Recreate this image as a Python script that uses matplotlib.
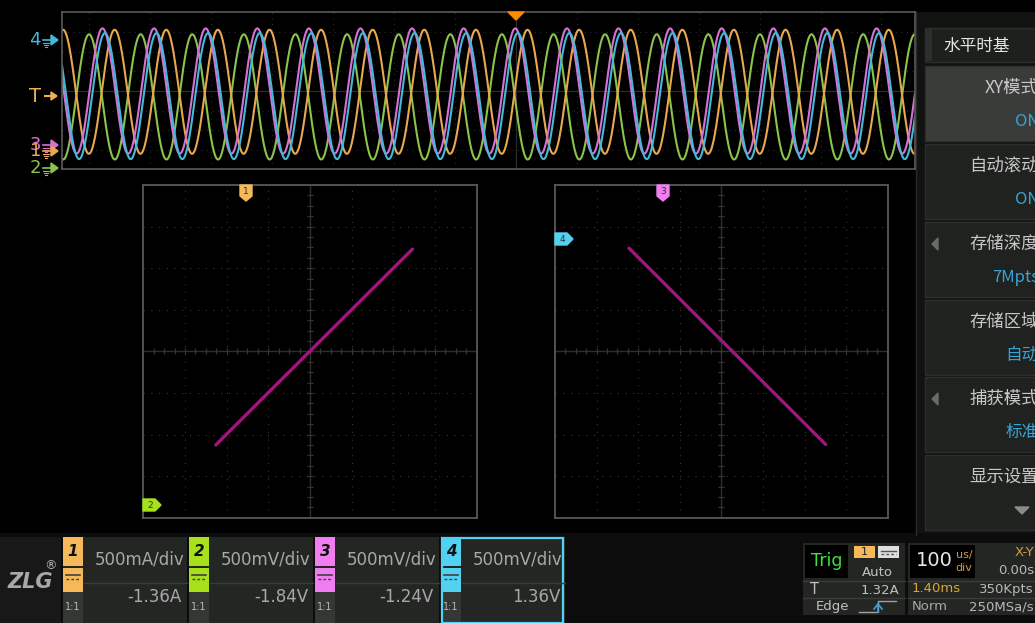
import numpy as np
import matplotlib
matplotlib.use('Agg')
import matplotlib.pyplot as plt
from matplotlib.patches import Rectangle, Polygon

W, H = 1035, 623
CJK = ['Noto Sans CJK SC', 'DejaVu Sans']

channels = ['1', '2', '3', '4']
ch_colors = ['#f5b95a', '#a6e11c', '#f07ef0', '#52d2f0']      # badge colours
trace_colors = ['#e9a84f', '#8cc34a', '#d672d6', '#45b9d9']   # waveform colours
ch_scale = ['500mA/div', '500mV/div', '500mV/div', '500mV/div']
ch_offset = ['-1.36A', '-1.84V', '-1.24V', '1.36V']
ch_probe = ['1:1', '1:1', '1:1', '1:1']

# sine fit of each trace (in divisions / microseconds)
wave_amp = [3.16, 3.19, 3.19, 3.21]
wave_center = [-0.04, -0.30, 0.0, -0.26]
wave_peak_us = [19, -23, -1, 3]
wave_period_us = 84.7
time_span_us = [-745, 655]

# XY traces, end points in divisions
xy_left_x = [-2.26, 2.46]
xy_left_y = [-2.25, 2.46]
xy_right_x = [-2.22, 2.51]
xy_right_y = [2.48, -2.24]

menu_title = '水平时基'
menu_items = ['XY模式', '自动滚动', '存储深度', '存储区域', '捕获模式', '显示设置']
menu_values = ['ON', 'ON', '7Mpts', '自动', '标准', '']

trig_source, trig_mode, trig_level, trig_type = '1', 'Auto', '1.32A', 'Edge'
timebase, tb_unit = '100', ['us/', 'div']
mode_text, pos_text, delay_text = 'X-Y', '0.00s', '1.40ms'
depth_text, acq_text, rate_text = '350Kpts', 'Norm', '250MSa/s'

# ---------------- figure ----------------
fig = plt.figure(figsize=(W / 100, H / 100), dpi=100)
fig.patch.set_facecolor('black')


def px_axes(x0, y0, x1, y1, z=1):
    ax = fig.add_axes([x0 / W, 1 - y1 / H, (x1 - x0) / W, (y1 - y0) / H], zorder=z)
    return ax


bg = px_axes(0, 0, W, H, z=0)
bg.set_xlim(0, W)
bg.set_ylim(H, 0)
bg.axis('off')
bg.set_facecolor('black')

fg = px_axes(0, 0, W, H, z=5)
fg.set_xlim(0, W)
fg.set_ylim(H, 0)
fg.axis('off')
fg.patch.set_alpha(0)


def rect(ax, x, y, w, h, fc, ec='none', lw=0):
    ax.add_patch(Rectangle((x, y), w, h, fc=fc, ec=ec, lw=lw))


# ---------------- top waveform window ----------------
wav = px_axes(62, 12.5, 915, 169.5, z=2)
wav.set_facecolor('none')
wav.set_xlim(*time_span_us)
wav.set_ylim(-4, 4)
wav.set_xticks([])
wav.set_yticks([])
for s in wav.spines.values():
    s.set_color('#5a5a5a')
    s.set_linewidth(1.2)
for k in range(-7, 7):
    wav.axvline(k * 100, color='#2a2a2a', lw=0.8, ls=(0, (1, 4)))
for k in range(-3, 4):
    wav.axhline(k, color='#2a2a2a', lw=0.8, ls=(0, (1, 4)))
wav.axhline(0, color='#2c2c2c', lw=0.9)
wav.axvline(0, color='#2c2c2c', lw=0.9)

t = np.linspace(time_span_us[0], time_span_us[1], 3000)
for i in [1, 0, 2, 3]:
    y = wave_center[i] + wave_amp[i] * np.cos(2 * np.pi * (t - wave_peak_us[i]) / wave_period_us)
    wav.plot(t, y, color=trace_colors[i], lw=1.5)

# trigger position marker
fg.add_patch(Polygon([(508, 12), (524, 12), (516, 20)], color='#ff8a00'))

# channel level markers on the left
level_y = {'4': 40, '3': 145, '1': 151, '2': 168}
for ch in ['4', '3', '1', '2']:
    i = channels.index(ch)
    yy = level_y[ch]
    c = trace_colors[i]
    fg.text(41, yy, ch, color=c, fontsize=13, ha='right', va='center')
    fg.plot([43, 51], [yy, yy], color=c, lw=1.2)
    for k, (a, b) in enumerate([(43, 49), (44, 48), (45, 47)]):
        fg.plot([a, b], [yy + 3 + 2 * k, yy + 3 + 2 * k], color=c, lw=0.8)
    fg.add_patch(Polygon([(51, yy - 5), (58, yy), (51, yy + 5)], color=c))
fg.text(41, 96, 'T', color='#f0b050', fontsize=14, ha='right', va='center')
fg.plot([45, 52], [96, 96], color='#f0b050', lw=1.5)
fg.add_patch(Polygon([(51, 92), (57, 96), (51, 100)], color='#f0b050'))

# ---------------- XY windows ----------------
def xy_window(x0, x1, xs, ys):
    ax = px_axes(x0, 185, x1, 517.7, z=2)
    ax.set_facecolor('none')
    ax.set_xlim(-4, 4)
    ax.set_ylim(-4, 4)
    ax.set_xticks([])
    ax.set_yticks([])
    for s in ax.spines.values():
        s.set_color('#585858')
        s.set_linewidth(1.3)
    for k in [-3, -2, -1, 1, 2, 3]:
        ax.axvline(k, color='#3a3a3a', lw=0.8, ls=(0, (1, 6)))
        ax.axhline(k, color='#3a3a3a', lw=0.8, ls=(0, (1, 6)))
    ax.axvline(0, color='#2e2e2e', lw=1.0)
    ax.axhline(0, color='#2e2e2e', lw=1.0)
    ticks = np.arange(-3.75, 4, 0.25)
    ax.vlines(ticks, -0.07, 0.07, color='#353535', lw=0.9)
    ax.hlines(ticks, -0.07, 0.07, color='#353535', lw=0.9)
    ax.plot(xs, ys, color='#a0157f', lw=2.4, solid_capstyle='round')
    return ax


xy_window(143.3, 476.7, xy_left_x, xy_left_y)
xy_window(555, 887.7, xy_right_x, xy_right_y)


def badge_down(x, ch):
    i = channels.index(ch)
    fg.add_patch(Polygon([(x - 6, 185), (x + 6, 185), (x + 6, 196), (x, 201), (x - 6, 196)],
                         color=ch_colors[i]))
    fg.text(x, 192, ch, fontsize=6.5, ha='center', va='center', color='#303030')


def badge_right(y, x, ch):
    i = channels.index(ch)
    fg.add_patch(Polygon([(x, y - 6), (x + 12, y - 6), (x + 18, y), (x + 12, y + 6), (x, y + 6)],
                         color=ch_colors[i]))
    fg.text(x + 7, y, ch, fontsize=6.5, ha='center', va='center', color='#303030')


badge_down(246, '1')
badge_right(505, 143, '2')
badge_down(663, '3')
badge_right(239, 555, '4')

# ---------------- right side menu ----------------
rect(bg, 917, 12, 118, 523, '#111311')
bg.plot([915.5, 915.5], [12, 535], color='#2a2a2a', lw=1)
rect(bg, 925, 28, 112, 34, '#1d201d', ec='#2b2e2b', lw=1)
rect(bg, 926, 29, 6, 32, '#2c2f2c')
bg.text(943, 46, menu_title, family=CJK, fontsize=12, color='#e6e6e6', ha='left', va='center')
box_tops = [66, 144, 222, 300, 377, 455]
for k, top in enumerate(box_tops):
    fc = '#3a3c3a' if k == 0 else '#1f221f'
    rect(bg, 925, top, 112, 75, fc, ec='#2c2f2c', lw=1)
    bg.text(1039, top + 22, menu_items[k], family=CJK, fontsize=12.5,
            color='#c8c8c8', ha='right', va='center')
    if menu_values[k]:
        bg.text(1039, top + 55, menu_values[k], family=CJK, fontsize=12,
                color='#3aa2d6', ha='right', va='center')
    if k in (2, 4):
        bg.add_patch(Polygon([(938, top + 16), (938, top + 28), (932, top + 22)], color='#6a6a6a'))
bg.add_patch(Polygon([(1015, 507), (1029, 507), (1022, 514)], color='#8a8a8a'))

# ---------------- bottom status bar ----------------
rect(bg, 0, 533, W, 90, '#0c0c0c')
rect(bg, 0, 537, 61, 86, '#181818')
bg.text(30, 582, 'ZLG', fontsize=15, fontweight='bold', style='italic',
        color='#a8a8a8', ha='center', va='center')
bg.text(50, 566, '®', fontsize=9, color='#b0b0b0', ha='center', va='center')

box_x = [63, 189, 315, 441]
for i, x0 in enumerate(box_x):
    rect(bg, x0, 537, 124, 86, '#242624')
    rect(bg, x0, 537, 20, 29, ch_colors[i])
    bg.text(x0 + 10, 551, channels[i], fontsize=11, fontweight='bold', style='italic',
            color='#111111', ha='center', va='center')
    rect(bg, x0, 568, 20, 24, ch_colors[i])
    bg.plot([x0 + 3, x0 + 17], [575, 575], color='#404040', lw=1.2)
    bg.plot([x0 + 3, x0 + 17], [579, 579], color='#404040', lw=1.0, ls=(0, (2, 1.5)))
    rect(bg, x0, 592, 20, 31, '#353735')
    bg.text(x0 + 10, 607, ch_probe[i], fontsize=7, color='#b8b8b8', ha='center', va='center')
    bg.plot([x0 + 21, x0 + 124], [583, 583], color='#3a3c3a', lw=1)
    bg.text(x0 + 122, 560, ch_scale[i], fontsize=12, color='#a8a8a8', ha='right', va='center')
    bg.text(x0 + 119, 597, ch_offset[i], fontsize=12, color='#a8a8a8', ha='right', va='center')
bg.add_patch(Rectangle((441.5, 537.5), 121.5, 85, fc='none', ec='#52d2f0', lw=1.6))

# trigger box
rect(bg, 803, 543, 102, 72, '#242624')
rect(bg, 805, 545, 43, 33, '#000000')
bg.text(826.5, 561, 'Trig', fontsize=12.5, color='#3fe03f', ha='center', va='center')
rect(bg, 854, 546, 21, 12, '#f5b95a')
bg.text(864.5, 552, trig_source, fontsize=8, color='#222222', ha='center', va='center')
rect(bg, 878, 546, 21, 12, '#dedede')
bg.plot([881, 896], [550.5, 550.5], color='#555555', lw=1)
bg.plot([881, 896], [553.5, 553.5], color='#555555', lw=1, ls=(0, (2, 1.5)))
bg.text(877, 572, trig_mode, fontsize=9.5, color='#c0c0c0', ha='center', va='center')
bg.plot([803, 905], [580.5, 580.5], color='#3a3c3a', lw=1)
bg.plot([803, 905], [597.5, 597.5], color='#3a3c3a', lw=1)
bg.text(810, 589, 'T', fontsize=10.5, color='#c0c0c0', ha='left', va='center')
bg.text(899, 590, trig_level, fontsize=9.5, color='#c0c0c0', ha='right', va='center')
bg.text(816, 606.5, trig_type, fontsize=9.5, color='#c0c0c0', ha='left', va='center')
bg.plot([859, 878, 878, 896], [612, 612, 601, 601], color='#a0a0a0', lw=1)
bg.plot([874, 878, 882], [609, 604, 609], color='#3aa2d6', lw=1.2)
bg.plot([878, 878], [604, 612], color='#3aa2d6', lw=1.2)

# timebase box
rect(bg, 908, 543, 127, 72, '#242624')
rect(bg, 910, 545, 65, 33, '#000000')
bg.text(934, 561, timebase, fontsize=14, color='#e8e8e8', ha='center', va='center')
bg.text(964, 555, tb_unit[0], fontsize=8, color='#d39a3e', ha='center', va='center')
bg.text(964, 568, tb_unit[1], fontsize=8, color='#d39a3e', ha='center', va='center')
bg.text(1034, 553, mode_text, fontsize=9.5, color='#d39a3e', ha='right', va='center')
bg.text(1034, 570, pos_text, fontsize=9.5, color='#b8b8b8', ha='right', va='center')
bg.plot([908, 1035], [580.5, 580.5], color='#3a3c3a', lw=1)
bg.plot([908, 1035], [597.5, 597.5], color='#3a3c3a', lw=1)
bg.text(912, 589, delay_text, fontsize=9.5, color='#d8a830', ha='left', va='center')
bg.text(1034, 589, depth_text, fontsize=9.5, color='#b8b8b8', ha='right', va='center')
bg.text(912, 606.5, acq_text, fontsize=9.5, color='#a8a8a8', ha='left', va='center')
bg.text(1034, 606.5, rate_text, fontsize=9.5, color='#b8b8b8', ha='right', va='center')

fig.savefig('out.png', dpi=100, facecolor=fig.get_facecolor())
